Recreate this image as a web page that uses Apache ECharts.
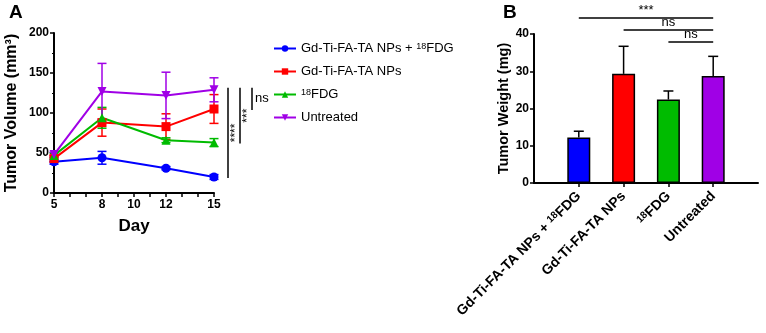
<!DOCTYPE html>
<html>
<head>
<meta charset="utf-8">
<script src="https://cdn.jsdelivr.net/npm/echarts@6/dist/echarts.min.js"></script>
<style>
html, body { margin: 0; padding: 0; background: #fff; }
#chart { width: 766px; height: 333px; }
</style>
</head>
<body>
<div id="chart"></div>
<script>
// panel A: tumour volume over time
const days = [5, 8, 12, 15]
const dayLabels = [5, 8, 10, 12, 15]
const groupNames = ['Gd-Ti-FA-TA NPs + 18FDG', 'Gd-Ti-FA-TA NPs', '18FDG', 'Untreated']
const groupColors = ['#0000ff', '#ff0000', '#00bb00', '#a000e6']
const groupSymbols = ['circle', 'rect', 'triangle', 'triangle']
const groupSymbolRotate = [0, 0, 0, 180]

const comboVolume = [39, 44, 31, 20]
const comboVolumeErr = [3, 8, 2, 3]
const npsVolume = [43, 88, 83, 105]
const npsVolumeErr = [4, 17, 16, 18]
const fdgVolume = [47, 94, 66, 63]
const fdgVolumeErr = [3, 13, 3, 5]
const untreatedVolume = [48, 127, 122, 129]
const untreatedVolumeErr = [3, 35, 29, 15]

const volumeMeans = [comboVolume, npsVolume, fdgVolume, untreatedVolume]
const volumeErrs = [comboVolumeErr, npsVolumeErr, fdgVolumeErr, untreatedVolumeErr]

// day-15 comparisons against untreated
const sigGroupsA = [0, 2, 1]
const sigLabelsA = ['****', '***', 'ns']

// panel B: tumour weight
const weightMean = [12.2, 29.3, 22.4, 28.7]
const weightErr = [1.7, 7.4, 2.3, 5.3]
const sigPairsB = [[0, 3], [1, 3], [2, 3]]
const sigLabelsB = ['***', 'ns', 'ns']

const font = 'Liberation Sans, Arial, sans-serif'
const supText = s => s.replace('18FDG', '{sup|18}FDG')

const chart = echarts.init(document.getElementById('chart'))

const lineSeries = groupNames.map((name, g) => ({
  type: 'line',
  name,
  xAxisIndex: 0,
  yAxisIndex: 0,
  data: days.map((d, i) => [d, volumeMeans[g][i]]),
  symbol: groupSymbols[g],
  symbolRotate: groupSymbolRotate[g],
  symbolSize: 9,
  z: 3,
  lineStyle: { color: groupColors[g], width: 2 },
  itemStyle: { color: groupColors[g] },
}))

const volumeErrData = []
groupNames.forEach((name, g) => {
  days.forEach((d, i) => {
    volumeErrData.push([d, volumeMeans[g][i], volumeErrs[g][i], g])
  })
})

const axisLineStyle = { color: '#000', width: 2 }
const tickLabel = { color: '#000', fontWeight: 'bold', fontSize: 12, fontFamily: font }

const option = {
  animation: false,
  backgroundColor: '#fff',
  textStyle: { fontFamily: font },
  grid: [
    { left: 54, top: 33, width: 160, height: 160 },
    { left: 534, top: 34, width: 224, height: 149 },
  ],
  xAxis: [
    {
      type: 'value',
      gridIndex: 0,
      min: 5,
      max: 15,
      interval: 1,
      name: 'Day',
      nameLocation: 'middle',
      nameGap: 25,
      nameTextStyle: { color: '#000', fontWeight: 'bold', fontSize: 17, fontFamily: font },
      axisLine: { lineStyle: axisLineStyle },
      axisTick: { length: 4, lineStyle: { color: '#000', width: 1.5 } },
      axisLabel: { ...tickLabel, margin: 6, formatter: v => (dayLabels.includes(v) ? v : '') },
      splitLine: { show: false },
    },
    {
      type: 'category',
      gridIndex: 1,
      boundaryGap: false,
      data: ['', ...groupNames, ''],
      axisLine: { lineStyle: axisLineStyle },
      axisTick: { length: 4, interval: i => i >= 1 && i <= 4, lineStyle: { color: '#000', width: 1.5 } },
      axisLabel: {
        interval: i => i >= 1 && i <= 4,
        rotate: 45,
        margin: 11,
        color: '#000',
        fontWeight: 'bold',
        fontSize: 14,
        fontFamily: font,
        formatter: v => supText(v),
        rich: {
          sup: { fontSize: 10, fontWeight: 'bold', fontFamily: font, color: '#000', verticalAlign: 'top', lineHeight: 10 },
        },
      },
      splitLine: { show: false },
    },
  ],
  yAxis: [
    {
      type: 'value',
      gridIndex: 0,
      min: 0,
      max: 200,
      interval: 50,
      name: 'Tumor Volume (mm³)',
      nameLocation: 'middle',
      nameGap: 34,
      nameTextStyle: { color: '#000', fontWeight: 'bold', fontSize: 16, fontFamily: font },
      axisLine: { show: true, lineStyle: axisLineStyle },
      axisTick: { show: true, length: 4, lineStyle: { color: '#000', width: 1.5 } },
      minorTick: { show: true, splitNumber: 2, length: 2, lineStyle: { color: '#000', width: 1 } },
      axisLabel: { ...tickLabel, margin: 5 },
      splitLine: { show: false },
    },
    {
      type: 'value',
      gridIndex: 1,
      min: 0,
      max: 40,
      interval: 10,
      name: 'Tumor Weight (mg)',
      nameLocation: 'middle',
      nameGap: 22,
      nameTextStyle: { color: '#000', fontWeight: 'bold', fontSize: 14.5, fontFamily: font },
      axisLine: { show: true, lineStyle: axisLineStyle },
      axisTick: { show: true, length: 4, lineStyle: { color: '#000', width: 1.5 } },
      axisLabel: { ...tickLabel, margin: 5 },
      splitLine: { show: false },
    },
  ],
  legend: {
    data: groupNames,
    orient: 'vertical',
    left: 268,
    top: 37,
    itemWidth: 22,
    itemHeight: 8,
    itemGap: 10,
    formatter: name => supText(name),
    textStyle: {
      color: '#000',
      fontSize: 13,
      fontFamily: font,
      rich: { sup: { fontSize: 9, fontFamily: font, color: '#000', verticalAlign: 'top', lineHeight: 10 } },
    },
  },
  graphic: [
    { type: 'text', left: 9, top: 3, style: { text: 'A', font: 'bold 19px ' + font, fill: '#000' } },
    { type: 'text', left: 503, top: 3, style: { text: 'B', font: 'bold 19px ' + font, fill: '#000' } },
  ],
  series: [
    ...lineSeries,
    {
      type: 'custom',
      name: 'volume-error',
      xAxisIndex: 0,
      yAxisIndex: 0,
      z: 2,
      data: volumeErrData,
      renderItem(params, api) {
        const x = api.value(0)
        const m = api.value(1)
        const e = api.value(2)
        const color = groupColors[api.value(3)]
        const lo = api.coord([x, m - e])
        const hi = api.coord([x, m + e])
        const style = { stroke: color, lineWidth: 1.5 }
        return {
          type: 'group',
          children: [
            { type: 'line', shape: { x1: lo[0], y1: lo[1], x2: hi[0], y2: hi[1] }, style },
            { type: 'line', shape: { x1: hi[0] - 4.5, y1: hi[1], x2: hi[0] + 4.5, y2: hi[1] }, style },
            { type: 'line', shape: { x1: lo[0] - 4.5, y1: lo[1], x2: lo[0] + 4.5, y2: lo[1] }, style },
          ],
        }
      },
    },
    {
      type: 'custom',
      name: 'volume-sig',
      xAxisIndex: 0,
      yAxisIndex: 0,
      clip: false,
      data: sigGroupsA.map((g, i) => [15, volumeMeans[g][3], i]),
      renderItem(params, api) {
        const i = api.value(2)
        const top = api.coord([15, untreatedVolume[3]])
        const bottom = api.coord([15, api.value(1)])
        const x = top[0] + 14 + 12 * i
        const y1 = top[1] - 2
        const y2 = bottom[1] + 1
        const label = sigLabelsA[i]
        const vertical = label !== 'ns'
        return {
          type: 'group',
          children: [
            { type: 'line', shape: { x1: x, y1, x2: x, y2 }, style: { stroke: '#000', lineWidth: 1.5 } },
            vertical
              ? {
                  type: 'text',
                  x: x + 2,
                  y: (y1 + y2) / 2,
                  rotation: Math.PI / 2,
                  style: { text: label, font: '12px ' + font, fill: '#000', align: 'center', verticalAlign: 'top' },
                }
              : {
                  type: 'text',
                  x: x + 3,
                  y: (y1 + y2) / 2,
                  style: { text: label, font: '13px ' + font, fill: '#000', align: 'left', verticalAlign: 'middle' },
                },
          ],
        }
      },
    },
    {
      type: 'bar',
      name: 'weight',
      xAxisIndex: 1,
      yAxisIndex: 1,
      barWidth: 23,
      data: ['-', ...weightMean.map((v, i) => ({
        value: v,
        itemStyle: { color: groupColors[i], borderColor: '#000', borderWidth: 1.5 },
      })), '-'],
    },
    {
      type: 'custom',
      name: 'weight-error',
      xAxisIndex: 1,
      yAxisIndex: 1,
      data: weightMean.map((v, i) => [i + 1, v, weightErr[i]]),
      renderItem(params, api) {
        const lo = api.coord([api.value(0), api.value(1)])
        const hi = api.coord([api.value(0), api.value(1) + api.value(2)])
        const style = { stroke: '#000', lineWidth: 1.5 }
        return {
          type: 'group',
          children: [
            { type: 'line', shape: { x1: lo[0], y1: lo[1], x2: hi[0], y2: hi[1] }, style },
            { type: 'line', shape: { x1: hi[0] - 5, y1: hi[1], x2: hi[0] + 5, y2: hi[1] }, style },
          ],
        }
      },
    },
    {
      type: 'custom',
      name: 'weight-sig',
      xAxisIndex: 1,
      yAxisIndex: 1,
      clip: false,
      data: sigPairsB.map((p, i) => [p[0] + 1, p[1] + 1, i]),
      renderItem(params, api) {
        const i = api.value(2)
        const a = api.coord([api.value(0), 40])
        const b = api.coord([api.value(1), 40])
        const y = a[1] - 16 + 12 * i
        return {
          type: 'group',
          children: [
            { type: 'line', shape: { x1: a[0], y1: y, x2: b[0], y2: y }, style: { stroke: '#000', lineWidth: 1.5 } },
            {
              type: 'text',
              x: (a[0] + b[0]) / 2,
              y: y - 1,
              style: { text: sigLabelsB[i], font: '13px ' + font, fill: '#000', align: 'center', verticalAlign: 'bottom' },
            },
          ],
        }
      },
    },
  ],
}

chart.setOption(option)
</script>
</body>
</html>
